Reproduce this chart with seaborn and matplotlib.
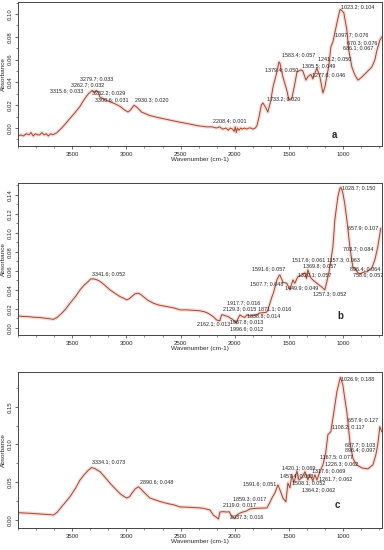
import matplotlib
matplotlib.use("Agg")
import matplotlib.pyplot as plt
import seaborn as sns
import pandas as pd
from matplotlib.ticker import FixedLocator, AutoMinorLocator

sns.set_style("white")
plt.rcParams['font.family'] = ['Liberation Sans', 'DejaVu Sans']

# ---------------- data: panel a ----------------
a_wn = [3998, 3975, 3950, 3925, 3900, 3880, 3860, 3840, 3820, 3800, 3780, 3760, 3740, 3720, 3700,
        3680, 3660, 3640, 3620, 3597, 3560, 3520, 3470, 3428, 3390, 3351, 3315, 3290, 3280, 3262,
        3243, 3200, 3151, 3100, 3059, 3020, 2985, 2960, 2930, 2900, 2860, 2786, 2700, 2601, 2500,
        2417, 2340, 2260, 2208, 2170, 2140, 2110, 2080, 2060, 2040, 2020, 2005, 1995, 1985, 1975,
        1960, 1945, 1930, 1910, 1890, 1870, 1850, 1830, 1810, 1795, 1775, 1755, 1740, 1712, 1694,
        1666, 1647, 1611, 1592, 1583, 1555, 1519, 1500, 1473, 1445, 1426, 1389, 1371, 1343, 1325,
        1297, 1279, 1260, 1242, 1214, 1186, 1168, 1131, 1113, 1094, 1057, 1030, 1023, 993, 965,
        947, 919, 891, 863, 827, 781, 735, 707, 688, 660, 642]
a_abs = [-0.007, -0.006, -0.007, -0.005, -0.006, -0.004, -0.007, -0.005, -0.006, -0.006, -0.004,
         -0.006, -0.005, -0.007, -0.005, -0.006, -0.005, -0.004, -0.002, 0.000, 0.004, 0.0085,
         0.014, 0.019, 0.025, 0.030, 0.033, 0.031, 0.033, 0.032, 0.027, 0.025, 0.023, 0.021, 0.019,
         0.016, 0.014, 0.016, 0.020, 0.018, 0.014, 0.011, 0.009, 0.007, 0.005, 0.0035, 0.002,
         0.001, 0.001, 0.000, 0.001, -0.001, 0.000, -0.002, 0.000, -0.001, -0.003, 0.001, -0.004,
         0.000, -0.002, 0.000, -0.001, 0.000, -0.001, 0.000, 0.000, -0.001, 0.000, 0.002, 0.010,
         0.020, 0.022, 0.0175, 0.014, 0.0246, 0.036, 0.049, 0.058, 0.057, 0.0447, 0.033, 0.0246,
         0.026, 0.039, 0.049, 0.051, 0.050, 0.042, 0.045, 0.047, 0.043, 0.048, 0.0526, 0.045,
         0.0307, 0.036, 0.055, 0.071, 0.0755, 0.092, 0.1035, 0.104, 0.101, 0.086, 0.068, 0.0535,
         0.0465, 0.042, 0.0447, 0.049, 0.0535, 0.0596, 0.068, 0.077, 0.080]

# ---------------- data: panel b ----------------
b_wn = [3998, 3950, 3900, 3850, 3800, 3750, 3700, 3674, 3640, 3597, 3560, 3520, 3470, 3428, 3390,
        3351, 3330, 3305, 3280, 3243, 3200, 3151, 3100, 3059, 3020, 2997, 2970, 2951, 2920, 2890,
        2865, 2844, 2800, 2751, 2700, 2628, 2560, 2506, 2444, 2380, 2321, 2280, 2245, 2200, 2168,
        2137, 2122, 2109, 2080, 2060, 2044, 2020, 1999, 1985, 1970, 1952, 1930, 1907, 1888, 1860,
        1830, 1800, 1768, 1740, 1707, 1694, 1675, 1657, 1645, 1611, 1592, 1583, 1555, 1519, 1491,
        1463, 1445, 1417, 1380, 1369, 1352, 1338, 1325, 1297, 1279, 1242, 1196, 1168, 1131, 1094,
        1076, 1048, 1030, 1020, 1002, 985, 965, 937, 910, 893, 882, 862, 845, 800, 781, 735, 707,
        680, 652]
b_abs = [0.0126, 0.012, 0.0118, 0.0112, 0.011, 0.0102, 0.0095, 0.009, 0.011, 0.0154, 0.020, 0.026,
         0.033, 0.040, 0.045, 0.049, 0.0515, 0.0516, 0.051, 0.049, 0.045, 0.040, 0.036, 0.033,
         0.031, 0.0295, 0.031, 0.033, 0.036, 0.0365, 0.035, 0.033, 0.029, 0.026, 0.024, 0.0225,
         0.021, 0.019, 0.019, 0.0185, 0.018, 0.017, 0.0154, 0.012, 0.0084, 0.0075, 0.0137, 0.0137,
         0.0125, 0.012, 0.0105, 0.009, 0.0067, 0.005, 0.010, 0.0137, 0.012, 0.011, 0.0137, 0.0126,
         0.0130, 0.0137, 0.0158, 0.016, 0.0165, 0.019, 0.026, 0.0326, 0.036, 0.0505, 0.055, 0.0558,
         0.048, 0.047, 0.040, 0.0505, 0.047, 0.054, 0.0558, 0.057, 0.058, 0.052, 0.061, 0.0526,
         0.0505, 0.047, 0.043, 0.040, 0.058, 0.085, 0.1137, 0.138, 0.147, 0.148, 0.142, 0.131,
         0.1137, 0.085, 0.064, 0.063, 0.061, 0.058, 0.057, 0.059, 0.059, 0.063, 0.0716, 0.085, 0.105]

# ---------------- data: panel c ----------------
c_wn = [3998, 3950, 3900, 3850, 3800, 3750, 3700, 3674, 3640, 3597, 3560, 3520, 3470, 3428, 3390,
        3351, 3320, 3290, 3243, 3200, 3151, 3100, 3059, 3020, 2997, 2970, 2951, 2920, 2890, 2865,
        2844, 2782, 2700, 2628, 2560, 2506, 2444, 2380, 2321, 2290, 2229, 2198, 2164, 2150, 2137,
        2110, 2072, 2050, 2026, 2000, 1980, 1955, 1924, 1890, 1860, 1800, 1750, 1703, 1680, 1657,
        1629, 1601, 1583, 1555, 1528, 1509, 1491, 1472, 1454, 1426, 1408, 1380, 1352, 1325, 1306,
        1279, 1260, 1242, 1214, 1186, 1159, 1140, 1113, 1085, 1057, 1025, 1002, 985, 965, 937, 910,
        893, 873, 827, 771, 725, 698, 680, 661, 643]
c_abs = [0.0097, 0.0093, 0.009, 0.0085, 0.008, 0.0075, 0.007, 0.0066, 0.010, 0.0177, 0.024,
         0.031, 0.042, 0.053, 0.060, 0.066, 0.0695, 0.068, 0.064, 0.057, 0.0487, 0.041, 0.035,
         0.031, 0.029, 0.031, 0.035, 0.041, 0.044, 0.041, 0.0376, 0.029, 0.025, 0.022, 0.020,
         0.0173, 0.0170, 0.0165, 0.016, 0.0155, 0.0133, 0.0066, 0.003, 0.0013, 0.0106, 0.011,
         0.0106, 0.011, 0.004, 0.0022, 0.0066, 0.0089, 0.0106, 0.012, 0.0146, 0.0155, 0.0158,
         0.016, 0.022, 0.029, 0.036, 0.0465, 0.040, 0.029, 0.024, 0.049, 0.0425, 0.060, 0.049,
         0.065, 0.053, 0.0558, 0.064, 0.053, 0.060, 0.052, 0.060, 0.053, 0.064, 0.073, 0.090,
         0.113, 0.117, 0.143, 0.170, 0.189, 0.179, 0.1616, 0.143, 0.1036, 0.082, 0.0775, 0.073,
         0.069, 0.0677, 0.073, 0.086, 0.0996, 0.1235, 0.117]

# ---------------- annotation labels ----------------
a_labels = ["3315.6; 0.033", "3262.7; 0.032", "3279.7; 0.033", "3232.2; 0.029", "3300.6; 0.031",
            "2930.3; 0.020", "2208.4; 0.001", "1733.2; 0.020", "1379.4; 0.050", "1583.4; 0.057",
            "1305.5; 0.049", "1241.2; 0.050", "1277.6; 0.046", "1023.2; 0.104", "1097.7; 0.076",
            "670.3; 0.076", "686.1; 0.067"]
a_lab_x = [3705, 3511, 3428, 3317, 3290, 2921, 2201, 1703, 1722, 1565, 1380, 1233, 1288, 1020,
           1076, 965, 1002]
a_lab_y = [0.0325, 0.0377, 0.043, 0.0307, 0.0246, 0.0246, 0.0061, 0.0254, 0.0509, 0.064, 0.0544,
           0.0605, 0.0465, 0.106, 0.0816, 0.0746, 0.070]

b_labels = ["3341.6; 0.052", "1917.7; 0.016", "2129.3; 0.015", "1871.1; 0.016", "1838.8; 0.014",
            "2162.1; 0.013", "1967.8; 0.013", "1996.6; 0.012", "1591.6; 0.057", "1507.7; 0.048",
            "1517.6; 0.061", "1157.3; 0.063", "1369.8; 0.057", "1320.1; 0.057", "1449.9; 0.049",
            "1257.3; 0.052", "896.4; 0.064", "758.6; 0.057", "703.7; 0.084", "657.9; 0.107",
            "1028.7; 0.150"]
b_lab_x = [3317, 2072, 2109, 1786, 1887, 2349, 2044, 2044, 1841, 1860, 1475, 1150, 1371, 1417,
           1537, 1279, 937, 905, 1002, 956, 1011]
b_lab_y = [0.0568, 0.0263, 0.020, 0.020, 0.0126, 0.0042, 0.0063, -0.001, 0.062, 0.0463, 0.0716,
           0.0716, 0.065, 0.0558, 0.042, 0.0358, 0.062, 0.0558, 0.083, 0.105, 0.147]

c_labels = ["3334.1; 0.073", "2890.6; 0.048", "2119.0; 0.017", "1859.3; 0.017", "2037.3; 0.016",
            "1591.6; 0.051", "1457.4; 0.063", "1420.1; 0.069", "1508.1; 0.052", "1364.2; 0.062",
            "1317.6; 0.069", "1261.7; 0.062", "1167.5; 0.077", "1226.3; 0.062", "1108.2; 0.117",
            "1026.9; 0.188", "657.9; 0.127", "687.7; 0.103", "896.4; 0.097"]
c_lab_x = [3317, 2875, 2109, 2017, 2044, 1924, 1583, 1565, 1472, 1380, 1288, 1225, 1214, 1168,
           1103, 1020, 956, 984, 984]
c_lab_y = [0.077, 0.0505, 0.020, 0.0279, 0.004, 0.0478, 0.0584, 0.069, 0.049, 0.040, 0.065,
           0.055, 0.0837, 0.0744, 0.1235, 0.187, 0.133, 0.0996, 0.093]

panels = [
    dict(wn=a_wn, ab=a_abs, labels=a_labels, lx=a_lab_x, ly=a_lab_y, letter="a",
         rect=[0.047, 0.7345, 0.948, 0.2618], ylim=(-0.0158, 0.1105),
         yticks=[0.00, 0.02, 0.04, 0.06, 0.08, 0.10], ytl=["0.00", "0.02", "0.04", "0.06", "0.08", "0.10"],
         ypos=(0.87, 0.076)),
    dict(wn=b_wn, ab=b_abs, labels=b_labels, lx=b_lab_x, ly=b_lab_y, letter="b",
         rect=[0.047, 0.391, 0.948, 0.2764], ylim=(-0.0074, 0.1526),
         yticks=[0.00, 0.02, 0.04, 0.06, 0.08, 0.10, 0.12, 0.14],
         ytl=["0.00", "0.02", "0.04", "0.06", "0.08", "0.10", "0.12", "0.14"],
         ypos=(0.885, 0.125)),
    dict(wn=c_wn, ab=c_abs, labels=c_labels, lx=c_lab_x, ly=c_lab_y, letter="c",
         rect=[0.047, 0.04, 0.948, 0.2836], ylim=(-0.0106, 0.196),
         yticks=[0.00, 0.05, 0.10, 0.15], ytl=["0.00", "0.05", "0.10", "0.15"],
         ypos=(0.876, 0.147)),
]

fig = plt.figure(figsize=(3.84, 5.5), dpi=100)
for p in panels:
    ax = fig.add_axes(p["rect"])
    df = pd.DataFrame({"wn": p["wn"], "abs": p["ab"]})
    sns.lineplot(data=df, x="wn", y="abs", ax=ax, color="#f5c4c4", lw=2.6, alpha=0.6,
                 estimator=None, sort=False)
    sns.lineplot(data=df, x="wn", y="abs", ax=ax, color="#9c4a2a", lw=0.7,
                 estimator=None, sort=False)
    ax.set_xlim(4000, 640)
    ax.set_ylim(*p["ylim"])
    ax.xaxis.set_major_locator(FixedLocator([3500, 3000, 2500, 2000, 1500, 1000]))
    ax.xaxis.set_minor_locator(AutoMinorLocator(3))
    ax.set_yticks(p["yticks"])
    ax.set_yticklabels(p["ytl"])
    ax.yaxis.set_minor_locator(AutoMinorLocator(2))
    ax.tick_params(axis="both", which="major", direction="out", length=2.5, width=0.5,
                   labelsize=4.3, pad=1.5, bottom=True, left=True, color="#333333")
    ax.tick_params(axis="both", which="minor", direction="out", length=1.5, width=0.4,
                   bottom=True, left=True, color="#333333")
    for lab in ax.get_yticklabels():
        lab.set_rotation(90)
        lab.set_va("center")
    for s in ax.spines.values():
        s.set_linewidth(0.7)
        s.set_color("#444444")
    ax.set_xlabel("Wavenumber (cm-1)", fontsize=4.6, labelpad=0.5)
    ax.set_ylabel("Absorbance", fontsize=4.6)
    ax.yaxis.set_label_coords(-0.033, 0.5)
    for t, x, y in zip(p["labels"], p["lx"], p["ly"]):
        ax.text(x, y, t, fontsize=3.9, ha="left", va="center", color="#222222")
    ax.text(p["ypos"][0], p["ypos"][1], p["letter"], transform=ax.transAxes,
            fontsize=7, fontweight="bold", ha="center", va="center")

fig.savefig("out.png", dpi=100)
